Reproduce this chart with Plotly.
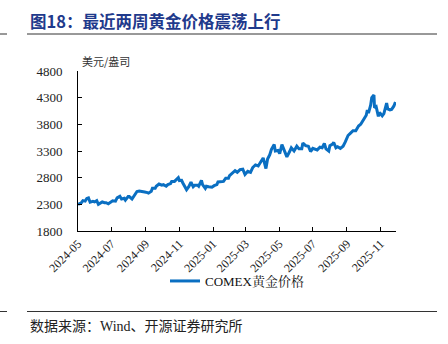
import plotly.graph_objects as go

# COMEX gold price (USD/oz)
dates = [
    "2024-05-01", "2024-05-03", "2024-05-07", "2024-05-10", "2024-05-14", "2024-05-17",
    "2024-05-20", "2024-05-23", "2024-05-28", "2024-05-31", "2024-06-04", "2024-06-07",
    "2024-06-11", "2024-06-14", "2024-06-18", "2024-06-21", "2024-06-25", "2024-06-28",
    "2024-07-03", "2024-07-08", "2024-07-11", "2024-07-16", "2024-07-19", "2024-07-24",
    "2024-07-26", "2024-07-31", "2024-08-02", "2024-08-07", "2024-08-12", "2024-08-16",
    "2024-08-20", "2024-08-26", "2024-08-30", "2024-09-04", "2024-09-06", "2024-09-11",
    "2024-09-13", "2024-09-18", "2024-09-20", "2024-09-25", "2024-09-30", "2024-10-03",
    "2024-10-08", "2024-10-11", "2024-10-16", "2024-10-18", "2024-10-23", "2024-10-25",
    "2024-10-30", "2024-11-01", "2024-11-05", "2024-11-07", "2024-11-11", "2024-11-14",
    "2024-11-18", "2024-11-22", "2024-11-26", "2024-11-29", "2024-12-04", "2024-12-06",
    "2024-12-11", "2024-12-13", "2024-12-18", "2024-12-20", "2024-12-24", "2024-12-30",
    "2025-01-03", "2025-01-08", "2025-01-10", "2025-01-15", "2025-01-20", "2025-01-24",
    "2025-01-29", "2025-01-31", "2025-02-05", "2025-02-10", "2025-02-14", "2025-02-19",
    "2025-02-24", "2025-02-28", "2025-03-05", "2025-03-10", "2025-03-14", "2025-03-19",
    "2025-03-24", "2025-03-28", "2025-04-02", "2025-04-07", "2025-04-10", "2025-04-14",
    "2025-04-17", "2025-04-22", "2025-04-24", "2025-04-29", "2025-05-02", "2025-05-06",
    "2025-05-09", "2025-05-15", "2025-05-20", "2025-05-23", "2025-05-28", "2025-06-02",
    "2025-06-06", "2025-06-11", "2025-06-13", "2025-06-18", "2025-06-23", "2025-06-27",
    "2025-07-01", "2025-07-03", "2025-07-09", "2025-07-14", "2025-07-18", "2025-07-22",
    "2025-07-25", "2025-07-30", "2025-08-01", "2025-08-06", "2025-08-08", "2025-08-12",
    "2025-08-15", "2025-08-20", "2025-08-25", "2025-08-29", "2025-09-03", "2025-09-08",
    "2025-09-12", "2025-09-17", "2025-09-22", "2025-09-26", "2025-10-01", "2025-10-06",
    "2025-10-08", "2025-10-10", "2025-10-14", "2025-10-16", "2025-10-20", "2025-10-21",
    "2025-10-24", "2025-10-28", "2025-10-30", "2025-11-04", "2025-11-07", "2025-11-12",
    "2025-11-14", "2025-11-18", "2025-11-21", "2025-11-25", "2025-11-28",
]
prices = [
    2300, 2310, 2330, 2370, 2360, 2410,
    2420, 2340, 2355, 2345, 2370, 2300,
    2320, 2345, 2330, 2330, 2310, 2330,
    2365, 2360, 2420, 2450, 2400, 2415,
    2380, 2445, 2445, 2400, 2470, 2540,
    2550, 2545, 2530, 2520, 2510, 2545,
    2600, 2600, 2640, 2680, 2660, 2670,
    2640, 2670, 2690, 2730, 2730, 2750,
    2800, 2745, 2750, 2705, 2620, 2575,
    2630, 2715, 2630, 2660, 2660, 2640,
    2750, 2670, 2600, 2640, 2630, 2620,
    2650, 2670, 2720, 2720, 2730, 2790,
    2790, 2840, 2890, 2930, 2900, 2950,
    2960, 2860, 2920, 2900, 2990, 3040,
    3020, 3090, 3170, 2970, 3150, 3230,
    3330, 3420, 3300, 3310, 3250, 3420,
    3330, 3190, 3290, 3360, 3300, 3390,
    3340, 3340, 3450, 3400, 3390, 3290,
    3350, 3340, 3320, 3370, 3360, 3440,
    3340, 3300, 3400, 3430, 3460, 3360,
    3380, 3350, 3390, 3470, 3590, 3640,
    3680, 3680, 3770, 3800, 3880, 3970,
    4070, 4010, 4160, 4300, 4350, 4110,
    4130, 3950, 4020, 3960, 4000, 4200,
    4090, 4070, 4080, 4140, 4220,
]

y_ticks = [1800, 2300, 2800, 3300, 3800, 4300, 4800]
x_ticks = ["2024-05-01", "2024-07-01", "2024-09-01", "2024-11-01", "2025-01-01",
           "2025-03-01", "2025-05-01", "2025-07-01", "2025-09-01", "2025-11-01"]
x_tick_text = ["2024-05", "2024-07", "2024-09", "2024-11", "2025-01",
               "2025-03", "2025-05", "2025-07", "2025-09", "2025-11"]

W, H = 448, 344
L, R, T, B = 78, 52, 71, 113
pw, ph = W - L - R, H - T - B


def px(x):
    return (x - L) / pw


def py(y):
    return (H - B - y) / ph


serif = "Liberation Serif, Noto Serif CJK SC, Noto Sans CJK SC, serif"
cjk = "Noto Sans CJK SC, sans-serif"
line_blue = "#0A6FC2"

fig = go.Figure()
fig.add_trace(go.Scatter(
    x=dates, y=prices, mode="lines", name="COMEX黄金价格",
    line=dict(color=line_blue, width=3),
))

fig.update_layout(
    width=W, height=H,
    margin=dict(l=L, r=R, t=T, b=B),
    paper_bgcolor="white", plot_bgcolor="white",
    showlegend=True,
    legend=dict(
        orientation="h", x=0.5, xanchor="center", y=py(281), yanchor="middle",
        font=dict(family=serif, size=13, color="#111"),
        itemwidth=30, bgcolor="rgba(0,0,0,0)",
    ),
    xaxis=dict(
        type="date", range=["2024-05-01", "2025-11-29"],
        tickvals=x_ticks, ticktext=x_tick_text, tickangle=-45,
        showline=True, linecolor="#000", linewidth=1,
        ticks="inside", ticklen=4, tickcolor="#000",
        showgrid=False, zeroline=False,
        tickfont=dict(family=serif, size=12, color="#222"),
    ),
    yaxis=dict(
        range=[1800, 4800], tickvals=y_ticks,
        showline=True, linecolor="#000", linewidth=1,
        ticks="inside", ticklen=4, tickcolor="#000",
        showgrid=False, zeroline=False, ticklabelstandoff=12,
        tickfont=dict(family=serif, size=13, color="#222"),
    ),
)

# Title, rules and notes
fig.add_annotation(
    x=px(28), y=py(21), xref="paper", yref="paper", xanchor="left", yanchor="middle",
    text="<b>图18：最近两周黄金价格震荡上行</b>", showarrow=False,
    font=dict(family=cjk, size=16.5, color="#1F3A8C"),
)
fig.add_annotation(
    x=px(80), y=py(61), xref="paper", yref="paper", xanchor="left", yanchor="middle",
    text="美元/盎司", showarrow=False,
    font=dict(family=cjk, size=11, color="#333"),
)
fig.add_annotation(
    x=px(28), y=py(325), xref="paper", yref="paper", xanchor="left", yanchor="middle",
    text="数据来源：<span style='font-family:Liberation Serif'>Wind</span>、开源证券研究所",
    showarrow=False, font=dict(family=cjk, size=14, color="#222"),
)
for yy in (34, 311.5):
    fig.add_shape(type="line", xref="paper", yref="paper",
                  x0=px(27), x1=px(437), y0=py(yy), y1=py(yy),
                  line=dict(color="#333", width=1))
    fig.add_shape(type="line", xref="paper", yref="paper",
                  x0=px(0), x1=px(7), y0=py(yy), y1=py(yy),
                  line=dict(color="#333", width=1))

fig.write_html("out.html")
